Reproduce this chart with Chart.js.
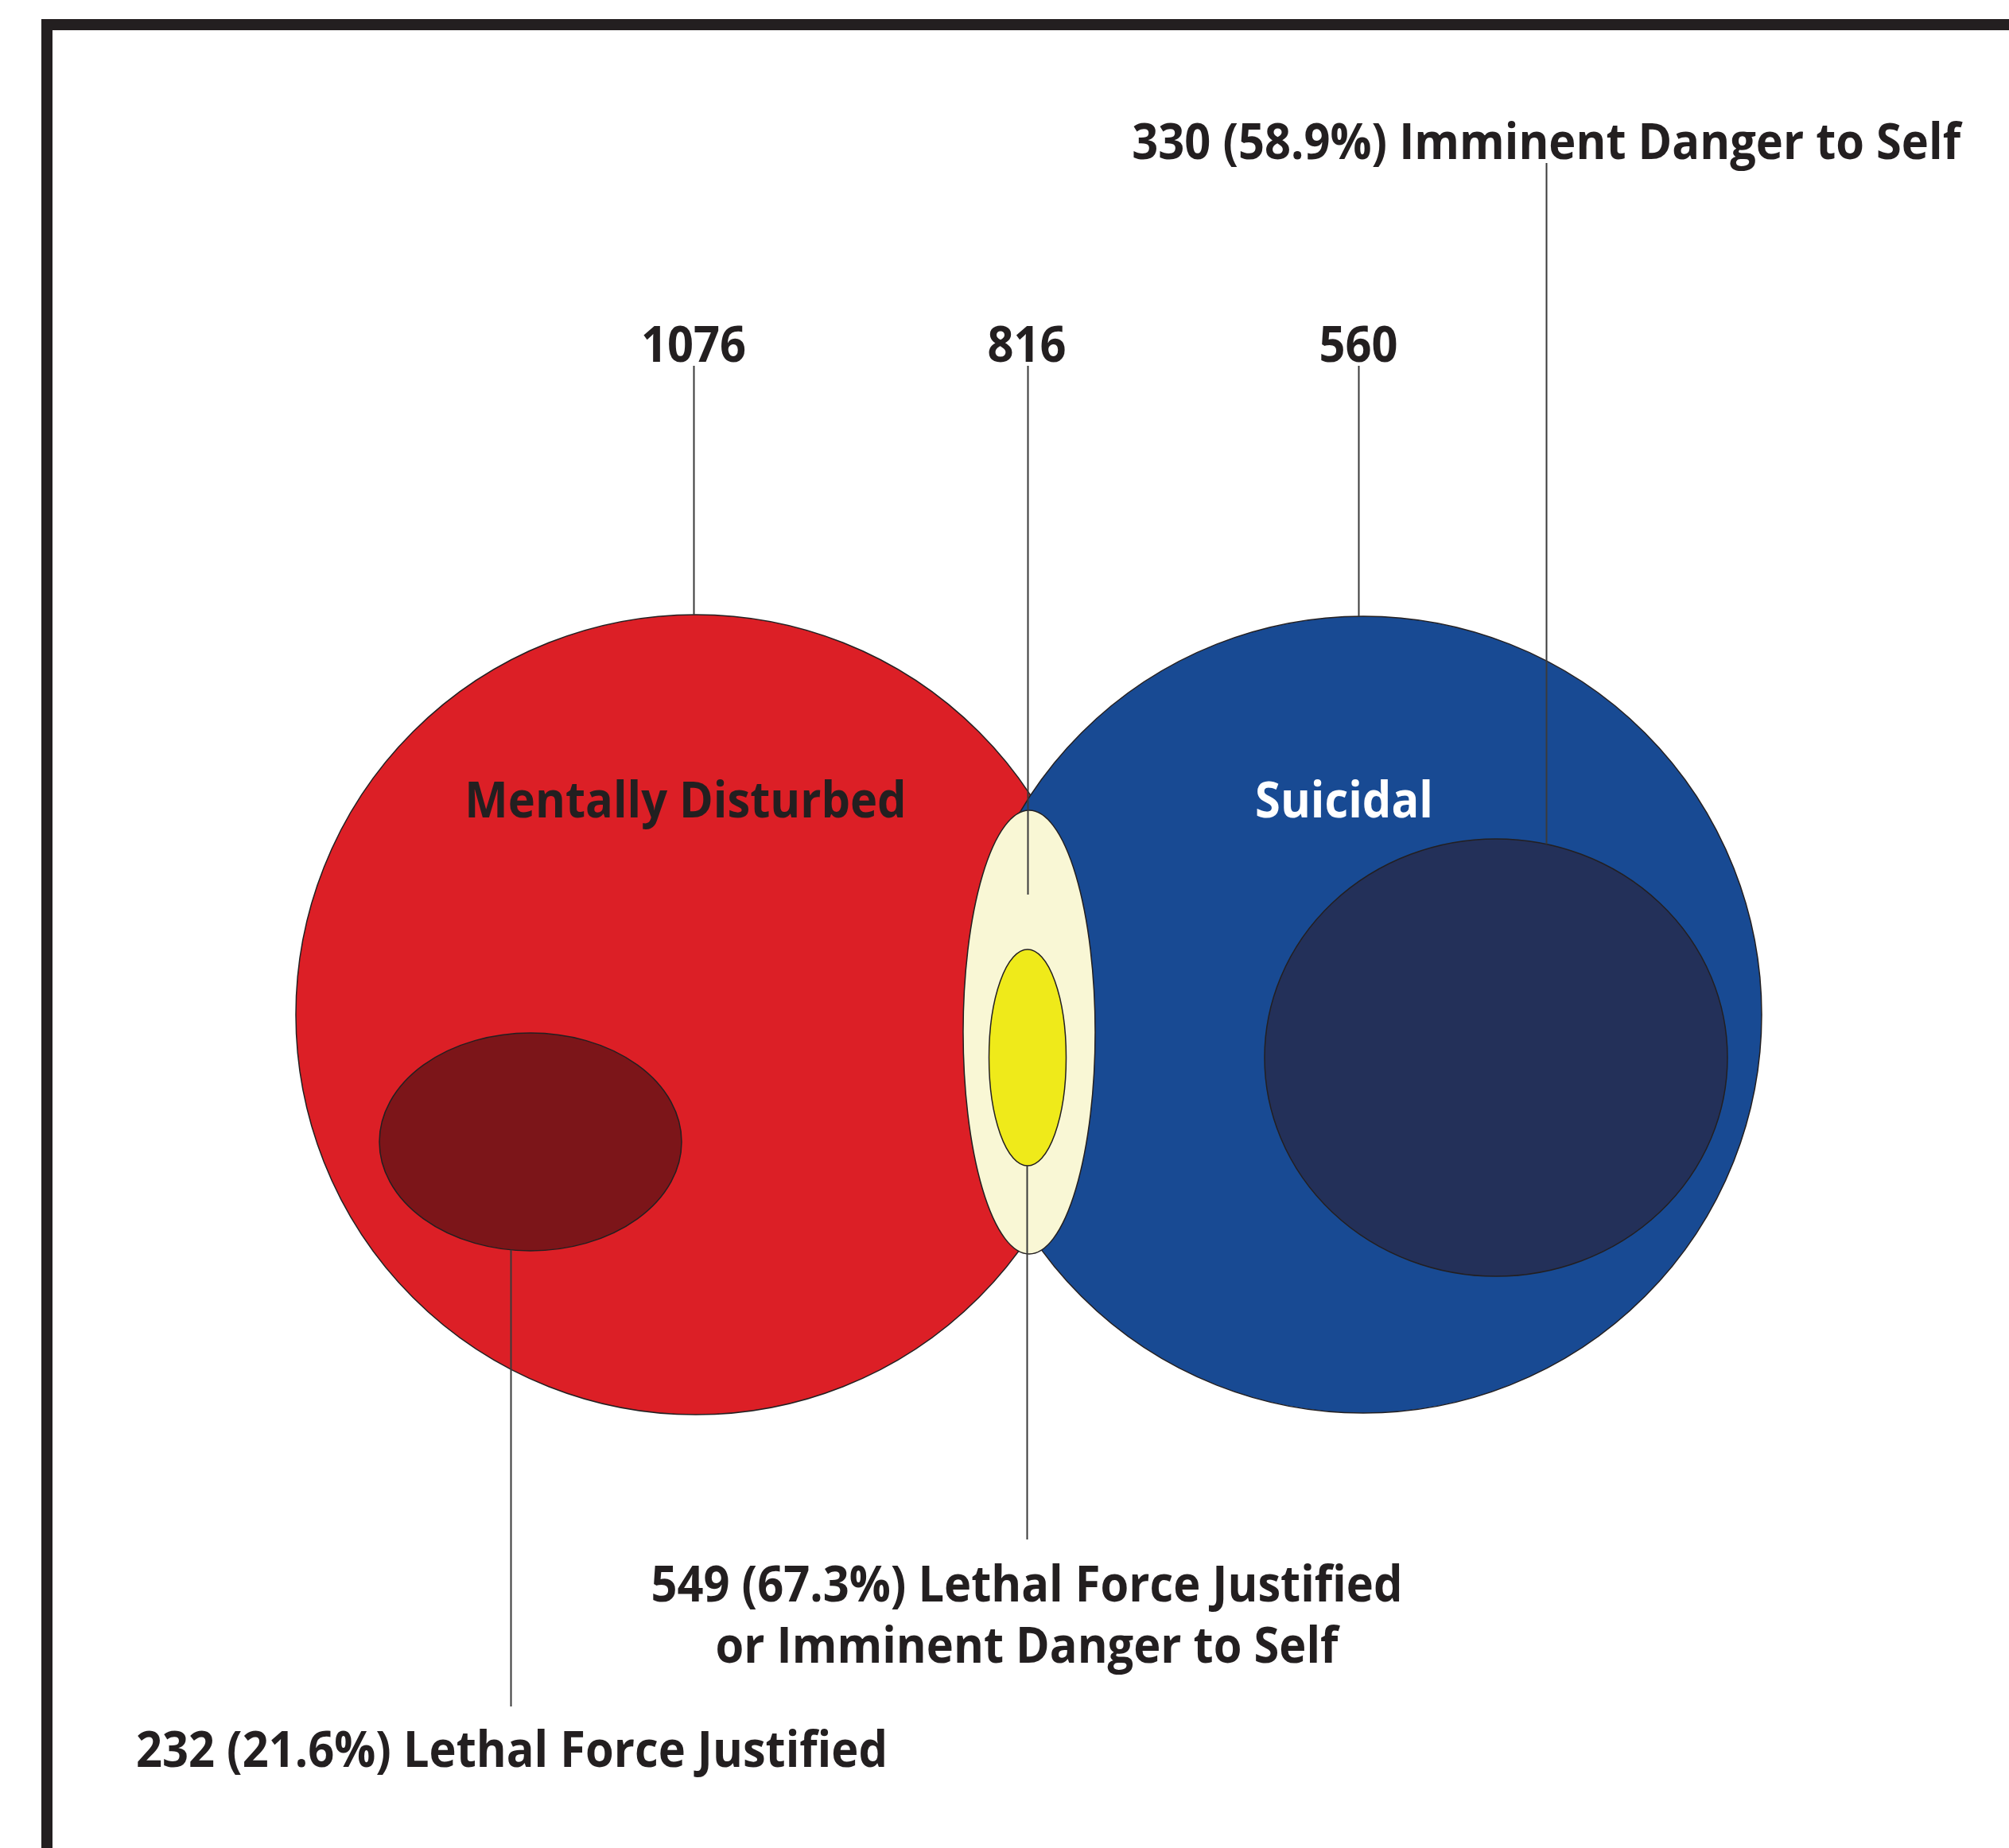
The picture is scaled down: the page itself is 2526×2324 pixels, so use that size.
<!DOCTYPE html>
<html>
<head>
<meta charset="utf-8">
<script src="https://cdn.jsdelivr.net/npm/chart.js@4"></script>
<style>
  html, body { margin: 0; padding: 0; background: #fff; overflow: hidden; }
  #venn { display: block; }
</style>
</head>
<body>
<canvas id="venn" width="2526" height="2324"></canvas>
<script>
// data
const setNames = ['Mentally Disturbed', 'Suicidal'];
const setTotals = [1076, 560];
const overlapTotal = 816;
const subsetNames = ['Lethal Force Justified', 'Imminent Danger to Self', 'Lethal Force Justified', 'or Imminent Danger to Self'];
const subsetCounts = [232, 330, 549];
const subsetPercents = [21.6, 58.9, 67.3];

// layout in chart units (1 unit = 1 px on a 2526 x 2324 canvas)
const setShapes = [
    { cx: 875, cy: 1276, rx: 503, ry: 503, fill: '#dc1f26' },
    { cx: 1714, cy: 1276, rx: 501, ry: 501, fill: '#184a93' }
];
const overlapShape = { cx: 1294, cy: 1298, rx: 83, ry: 279, fill: '#f9f7d5' };
const subsetShapes = [
    { cx: 667, cy: 1436, rx: 190, ry: 137, fill: '#7c1519' },
    { cx: 1881, cy: 1330, rx: 291, ry: 275, fill: '#233059' },
    { cx: 1292, cy: 1330, rx: 48.5, ry: 136, fill: '#efea1a' }
];

const ink = '#231f20';
const font = 'bold 63px "Open Sans"';
const refWidth = 945; // width of the 232 label in the reference

function fmt(i) {
    return subsetCounts[i] + ' (' + subsetPercents[i].toFixed(1) + '%) ' + subsetNames[i];
}

const vennPlugin = {
    id: 'venn',
    beforeDraw(chart) {
        const c = chart.ctx;
        c.save();
        c.fillStyle = '#fff';
        c.fillRect(0, 0, chart.width, chart.height);
        c.restore();
    },
    afterDatasetsDraw(chart) {
        const c = chart.ctx;
        const sx = chart.scales.x, sy = chart.scales.y;
        const X = v => sx.getPixelForValue(v);
        const Y = v => sy.getPixelForValue(v);

        function ellipse(s) {
            const cx = X(s.cx), cy = Y(s.cy);
            const rx = Math.abs(X(s.cx + s.rx) - cx), ry = Math.abs(Y(s.cy + s.ry) - cy);
            c.beginPath();
            c.ellipse(cx, cy, rx, ry, 0, 0, Math.PI * 2);
            c.fillStyle = s.fill;
            c.fill();
            c.lineWidth = 1.5;
            c.strokeStyle = ink;
            c.stroke();
        }
        function edgeY(s, x, top) {
            const d = (x - s.cx) / s.rx;
            const h = s.ry * Math.sqrt(Math.max(0, 1 - d * d));
            return top ? s.cy - h : s.cy + h;
        }
        function lead(x, y1, y2) {
            c.beginPath();
            c.moveTo(Math.round(X(x)) + 0.5, Y(y1));
            c.lineTo(Math.round(X(x)) + 0.5, Y(y2));
            c.lineWidth = 2;
            c.strokeStyle = '#3a3a3a';
            c.stroke();
        }

        c.save();
        c.font = font;
        const squeeze = refWidth / c.measureText(fmt(0)).width;
        function text(str, x, y, align, color) {
            c.save();
            c.translate(X(x), Y(y));
            c.scale(squeeze, 1);
            c.font = font;
            c.textAlign = align;
            c.textBaseline = 'alphabetic';
            c.fillStyle = color || ink;
            c.fillText(str, 0, 0);
            c.restore();
        }

        // frame
        c.lineWidth = 14;
        c.strokeStyle = ink;
        c.strokeRect(X(59), Y(31), 4000, 4000);

        setShapes.forEach(ellipse);
        subsetShapes.slice(0, 2).forEach(ellipse);
        ellipse(overlapShape);
        ellipse(subsetShapes[2]);

        // leader lines
        lead(872, 460, edgeY(setShapes[0], 872, true));
        lead(1292, 460, 1125);
        lead(1708, 460, edgeY(setShapes[1], 1708, true));
        lead(1944, 205, edgeY(subsetShapes[1], 1944, true));
        lead(642, edgeY(subsetShapes[0], 642, false), 2146);
        lead(1291, edgeY(subsetShapes[2], 1291, false), 1936);

        // labels
        text(String(setTotals[0]), 872, 455, 'center');
        text(String(overlapTotal), 1291, 455, 'center');
        text(String(setTotals[1]), 1708, 455, 'center');
        text(setNames[0], 862, 1028, 'center');
        text(setNames[1], 1690, 1028, 'center', '#ffffff');
        text(fmt(1), 2465, 200, 'right');
        text(fmt(2), 1291, 2014, 'center');
        text(subsetNames[3], 1291, 2091, 'center');
        text(fmt(0), 171, 2222, 'left');
        c.restore();
    }
};

new Chart(document.getElementById('venn').getContext('2d'), {
    type: 'scatter',
    data: {
        datasets: [{
            label: 'Sets',
            data: setShapes.concat([overlapShape], subsetShapes).map(s => ({ x: s.cx, y: s.cy })),
            pointRadius: 0
        }]
    },
    options: {
        responsive: false,
        animation: false,
        events: [],
        layout: { padding: 0 },
        plugins: {
            legend: { display: false },
            tooltip: { enabled: false }
        },
        scales: {
            x: { type: 'linear', min: 0, max: 2526, display: false },
            y: { type: 'linear', min: 0, max: 2324, reverse: true, display: false }
        }
    },
    plugins: [vennPlugin]
});
</script>
</body>
</html>
